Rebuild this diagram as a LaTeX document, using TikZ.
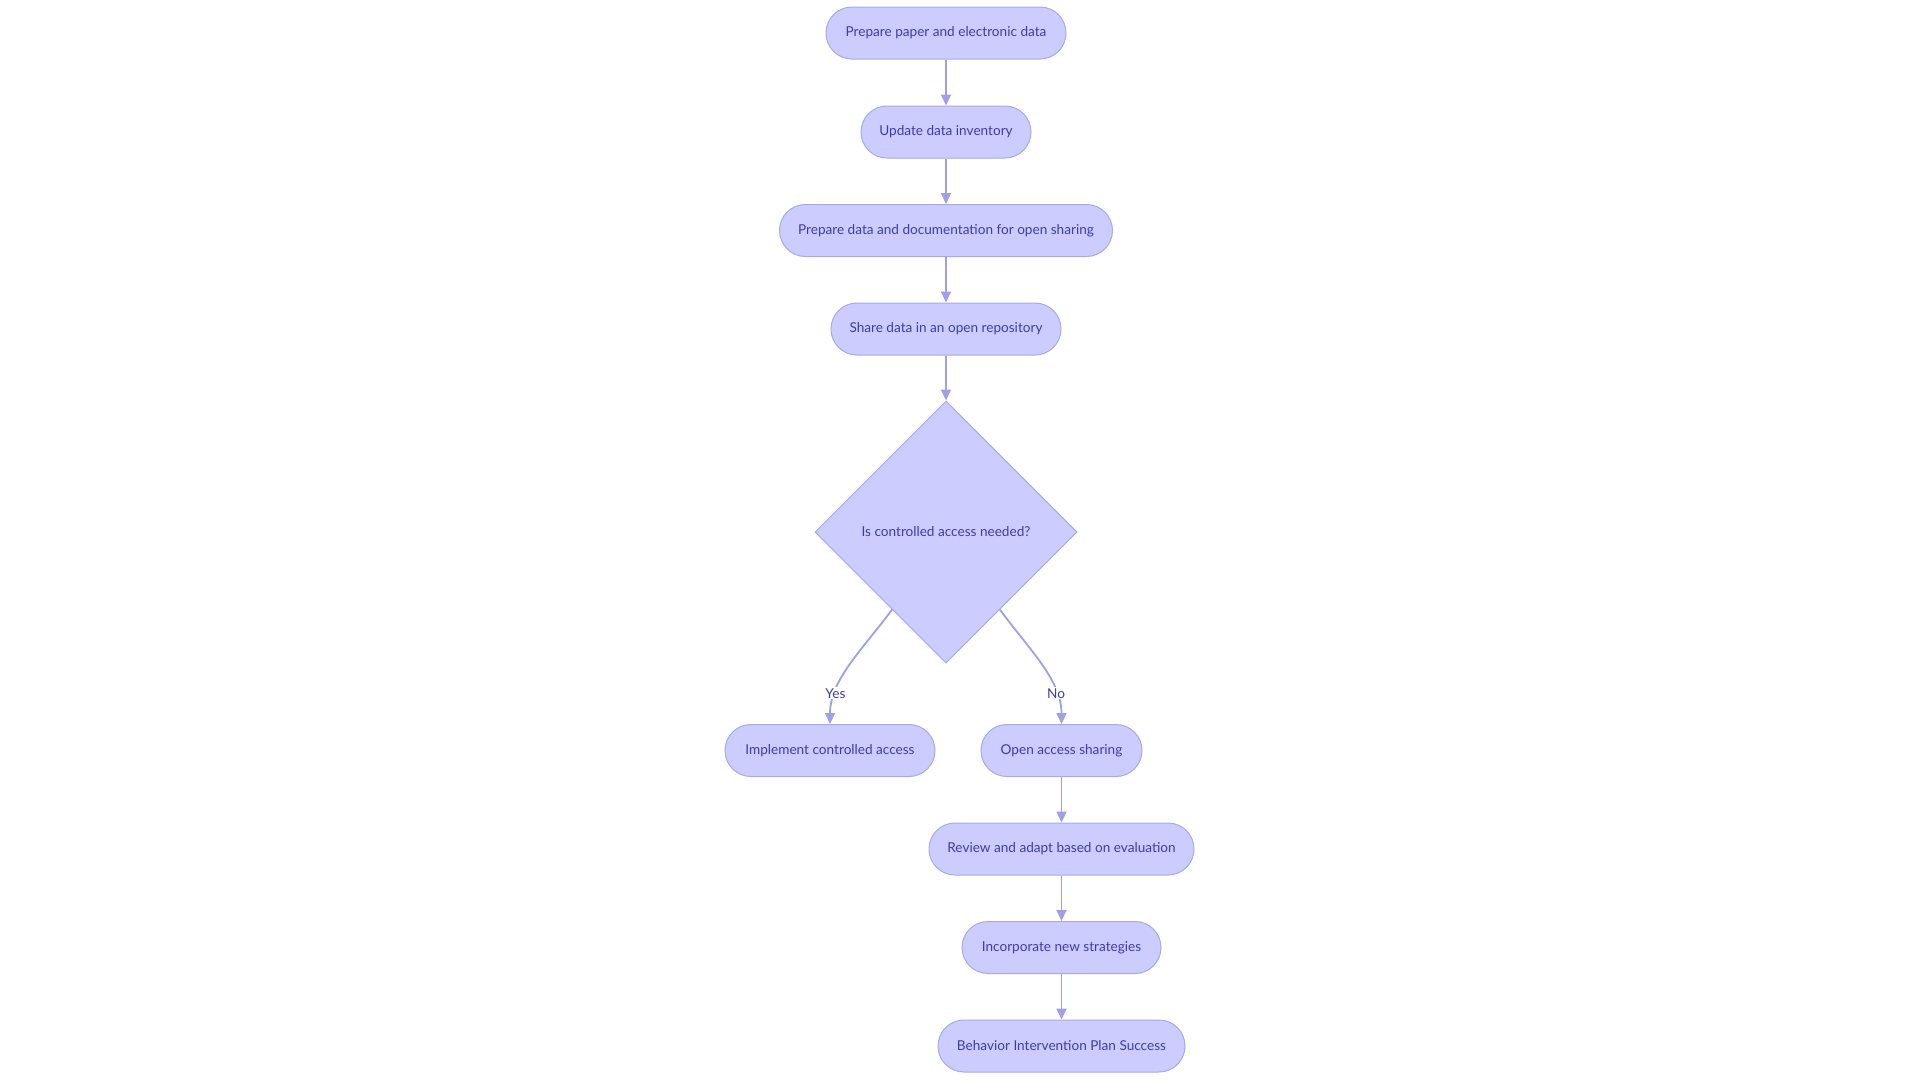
\documentclass[tikz,border=0pt]{standalone}
\usepackage{fontspec}
\setmainfont{Lato}
\usepackage{xcolor}
\usepackage{tikz}
\usetikzlibrary{shapes.geometric, arrows.meta, calc}
\definecolor{stepfill}{RGB}{204, 204, 255}
\definecolor{stepborder}{RGB}{168, 168, 236}
\definecolor{flowline}{RGB}{160, 160, 232}
\definecolor{steptext}{RGB}{60, 60, 175}

\begin{document}
\begin{tikzpicture}[x=1pt, y=-1pt,
    stepbox/.style={draw=stepborder, fill=stepfill, line width=1pt, rounded corners=26pt,
        minimum height=52pt, inner sep=0pt, text=steptext, font=\fontsize{13.6}{16}\selectfont},
    decisionbox/.style={diamond, aspect=1, draw=stepborder, fill=stepfill, line width=1pt,
        minimum size=262pt, inner sep=0pt, text=steptext, font=\fontsize{13.6}{16}\selectfont},
    flow/.style={draw=flowline, line width=1.8pt, -{Triangle[width=10pt, length=11pt]}},
    answer/.style={fill=white, inner sep=1pt, text=steptext, font=\fontsize{13.6}{16}\selectfont}]
    \useasboundingbox[fill=white] (0, 0) rectangle (1920, 1080);

    % Main column
    \node[stepbox, minimum width=240pt] (paper) at (946, 33) {Prepare paper and electronic data};
    \node[stepbox, minimum width=170pt] (inventory) at (946, 132) {Update data inventory};
    \node[stepbox, minimum width=333pt] (documentation) at (946, 230.5) {Prepare data and documentation for open sharing};
    \node[stepbox, minimum width=230pt] (repository) at (946, 329) {Share data in an open repository};
    \node[decisionbox] (controlled) at (946, 532) {Is controlled access needed?};

    % Branches
    \node[stepbox, minimum width=210pt] (implement) at (830, 750.5) {Implement controlled access};
    \node[stepbox, minimum width=161pt] (openaccess) at (1061.5, 750.5) {Open access sharing};
    \node[stepbox, minimum width=265pt] (review) at (1061.5, 849) {Review and adapt based on evaluation};
    \node[stepbox, minimum width=199pt] (strategies) at (1061.5, 947.5) {Incorporate new strategies};
    \node[stepbox, minimum width=247pt] (success) at (1061.5, 1046) {Behavior Intervention Plan Success};

    % Connectors
    \draw[flow] (paper) -- (inventory);
    \draw[flow] (inventory) -- (documentation);
    \draw[flow] (documentation) -- (repository);
    \draw[flow] (repository) -- (controlled);
    \draw[flow] ($(controlled.south)!0.41!(controlled.west)$) .. controls (862, 650) and (830, 680) .. node[answer, pos=0.75] {Yes} (implement.north);
    \draw[flow] ($(controlled.south)!0.41!(controlled.east)$) .. controls (1029.5, 650) and (1061.5, 680) .. node[answer, pos=0.75] {No} (openaccess.north);
    \draw[flow] (openaccess) -- (review);
    \draw[flow] (review) -- (strategies);
    \draw[flow] (strategies) -- (success);
\end{tikzpicture}
\end{document}
